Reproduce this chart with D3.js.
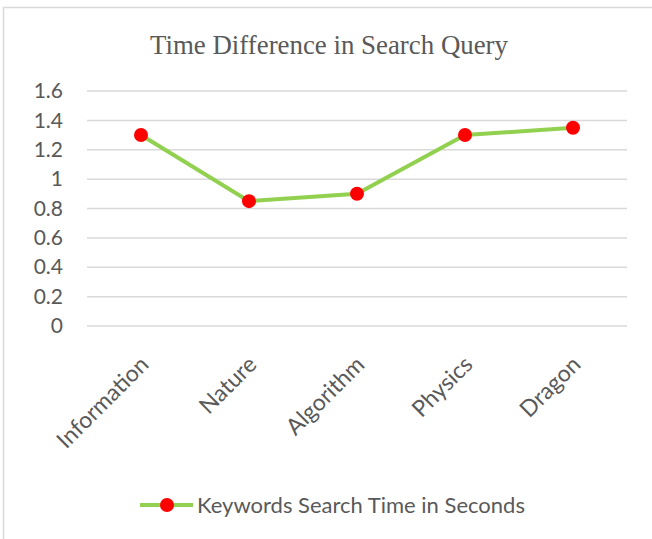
<!DOCTYPE html>
<html lang="en">
<head>
<meta charset="UTF-8">
<title>Time Difference in Search Query</title>
<script src="https://cdn.jsdelivr.net/npm/d3@7/dist/d3.min.js"></script>
<style>
	body { margin: 0; background: #fff; }
	text { fill: #595959; }
</style>
</head>
<body>
<svg width="652" height="539"></svg>
<script>
	// chart data
	const categories = ["Information", "Nature", "Algorithm", "Physics", "Dragon"];
	const searchTimes = [1.3, 0.85, 0.9, 1.3, 1.35];
	const yTicks = [0, 0.2, 0.4, 0.6, 0.8, 1, 1.2, 1.4, 1.6];
	const seriesName = "Keywords Search Time in Seconds";
	const title = "Time Difference in Search Query";

	const svg = d3.select("svg");
	const margin = { top: 91, left: 87, right: 25, bottom: 213 };
	const width = 652 - margin.left - margin.right,
		height = 539 - margin.top - margin.bottom;

	// outer frame
	svg.append("rect")
		.attr("x", 3.5).attr("y", 7.5)
		.attr("width", 680).attr("height", 560)
		.attr("fill", "none")
		.attr("stroke", "#d9d9d9")
		.attr("stroke-width", 1.5);

	// title is a condensed serif, so squeeze it to the reference width
	svg.append("text")
		.attr("x", 150).attr("y", 54)
		.attr("textLength", 358)
		.attr("lengthAdjust", "spacingAndGlyphs")
		.style("font-family", "'Liberation Serif', serif")
		.style("font-size", "27px")
		.text(title);

	const x = d3.scaleBand().domain(categories).range([0, width]);
	const y = d3.scaleLinear().domain([0, 1.6]).range([height, 0]);

	const g = svg.append("g").attr("transform", `translate(${margin.left},${margin.top})`);

	// gridlines
	g.append("g")
		.selectAll("line")
		.data(yTicks)
		.enter()
		.append("line")
		.attr("x1", 0).attr("x2", width)
		.attr("y1", d => y(d)).attr("y2", d => y(d))
		.attr("stroke", "#d9d9d9")
		.attr("stroke-width", 1.5);

	// y axis labels
	const yAxis = g.append("g")
		.call(d3.axisLeft(y).tickValues(yTicks).tickSize(0).tickPadding(24).tickFormat(d3.format("")));
	yAxis.select(".domain").remove();
	yAxis.selectAll("text")
		.style("font-family", "Lato, 'Open Sans', sans-serif")
		.style("font-size", "21px")
		.attr("fill", "#595959");

	// x axis labels
	const xAxis = g.append("g")
		.attr("transform", `translate(0,${height})`)
		.call(d3.axisBottom(x).tickSize(0).tickPadding(0));
	xAxis.select(".domain").remove();
	xAxis.selectAll("text")
		.style("font-family", "Lato, 'Open Sans', sans-serif")
		.style("font-size", "23px")
		.attr("fill", "#595959")
		.attr("text-anchor", "end")
		.attr("dy", 0)
		.attr("transform", "translate(9,40) rotate(-45)");

	const line = d3.line()
		.x((d, i) => x(categories[i]) + x.bandwidth() / 2)
		.y(d => y(d));

	g.append("path")
		.attr("d", line(searchTimes))
		.attr("fill", "none")
		.attr("stroke", "#92d050")
		.attr("stroke-width", 4);

	g.selectAll(".dot")
		.data(searchTimes)
		.enter()
		.append("circle")
		.attr("class", "dot")
		.attr("cx", (d, i) => x(categories[i]) + x.bandwidth() / 2)
		.attr("cy", d => y(d))
		.attr("r", 7)
		.attr("fill", "#ff0000");

	// legend
	const legend = svg.append("g").attr("transform", "translate(140,505)");
	legend.append("line")
		.attr("x1", 0).attr("x2", 53)
		.attr("stroke", "#92d050")
		.attr("stroke-width", 4);
	legend.append("circle")
		.attr("cx", 27).attr("r", 7)
		.attr("fill", "#ff0000");
	legend.append("text")
		.attr("x", 57).attr("y", 8)
		.style("font-family", "Lato, 'Open Sans', sans-serif")
		.style("font-size", "22px")
		.text(seriesName);
</script>
</body>
</html>
